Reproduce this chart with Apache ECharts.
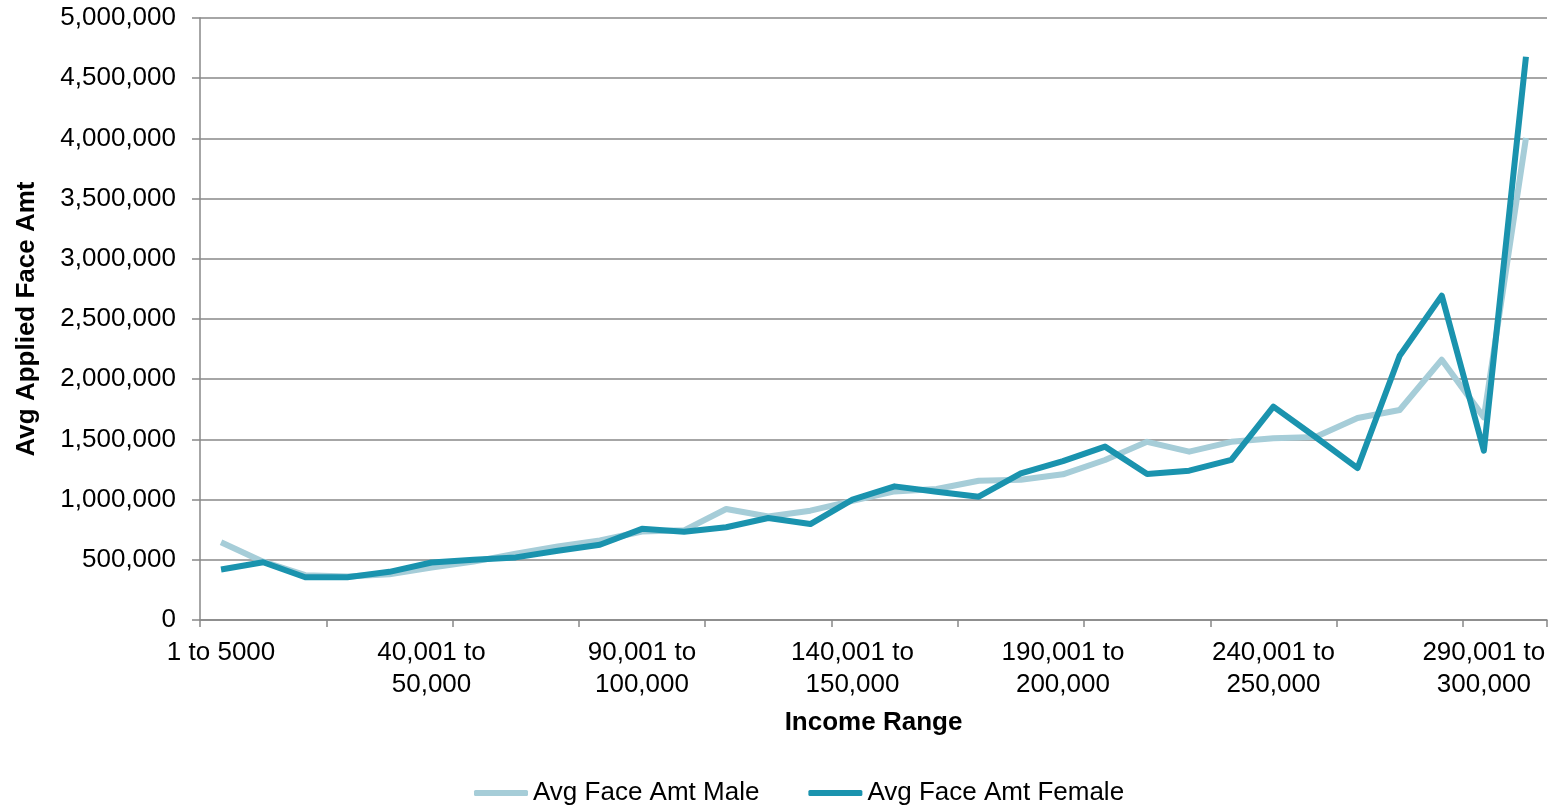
<!DOCTYPE html>
<html>
<head>
<meta charset="utf-8">
<title>Avg Applied Face Amt by Income Range</title>
<script src="https://cdn.jsdelivr.net/npm/echarts@6/dist/echarts.min.js"></script>
<style>
  html, body { margin: 0; padding: 0; background: #ffffff; }
  #chart { width: 1552px; height: 806px; }
</style>
</head>
<body>
<div id="chart"></div>
<script>
// Income bands (x-axis categories)
const incomeRanges = [
  '1 to 5000', '5,001 to\n10,000', '10,001 to\n20,000', '20,001 to\n30,000',
  '30,001 to\n40,000', '40,001 to\n50,000', '50,001 to\n60,000', '60,001 to\n70,000',
  '70,001 to\n80,000', '80,001 to\n90,000', '90,001 to\n100,000', '100,001 to\n110,000',
  '110,001 to\n120,000', '120,001 to\n130,000', '130,001 to\n140,000', '140,001 to\n150,000',
  '150,001 to\n160,000', '160,001 to\n170,000', '170,001 to\n180,000', '180,001 to\n190,000',
  '190,001 to\n200,000', '200,001 to\n210,000', '210,001 to\n220,000', '220,001 to\n230,000',
  '230,001 to\n240,000', '240,001 to\n250,000', '250,001 to\n260,000', '260,001 to\n270,000',
  '270,001 to\n280,000', '280,001 to\n290,000', '290,001 to\n300,000', '300,001+'
];

// Average applied face amount, male applicants
const maleAvgFace = [
  645000, 484000, 372000, 362000, 380000, 435000, 485000, 550000,
  610000, 660000, 735000, 745000, 922000, 860000, 908000, 990000,
  1068000, 1088000, 1157000, 1165000, 1210000, 1329000, 1480000, 1398000,
  1480000, 1510000, 1520000, 1678000, 1744000, 2162000, 1683000, 4003000
];

// Average applied face amount, female applicants
const femaleAvgFace = [
  420000, 480000, 355000, 355000, 400000, 478000, 500000, 520000,
  575000, 625000, 757000, 733000, 770000, 847000, 797000, 1000000,
  1110000, 1066000, 1024000, 1218000, 1320000, 1440000, 1213000, 1240000,
  1330000, 1772000, 1520000, 1262000, 2195000, 2694000, 1406000, 4678000
];

const seriesNames = ['Avg Face Amt Male', 'Avg Face Amt Female'];

const FONT = '"Liberation Sans", Arial, Helvetica, sans-serif';
const GRID_GRAY = '#888888';
const MALE_COLOR = '#a6cdd8';
const FEMALE_COLOR = '#1a93ae';

const chart = echarts.init(document.getElementById('chart'), null, { renderer: 'canvas' });

chart.setOption({
  animation: false,
  backgroundColor: '#ffffff',
  textStyle: { fontFamily: FONT },
  grid: { left: 200, right: 5, top: 18, bottom: 186, containLabel: false },
  legend: {
    data: seriesNames,
    left: 474,
    top: 780,
    padding: 0,
    icon: 'roundRect',
    itemWidth: 54,
    itemHeight: 6,
    itemGap: 49,
    textStyle: { fontFamily: FONT, fontSize: 26, color: '#000000' }
  },
  xAxis: {
    type: 'category',
    data: incomeRanges,
    boundaryGap: true,
    name: 'Income Range',
    nameLocation: 'middle',
    nameGap: 90,
    nameTextStyle: { fontFamily: FONT, fontSize: 26, fontWeight: 'bold', color: '#000000' },
    axisLine: { show: true, lineStyle: { color: GRID_GRAY, width: 1.5 } },
    axisTick: { show: true, interval: 2, length: 7, lineStyle: { color: GRID_GRAY, width: 1.5 } },
    axisLabel: {
      interval: 4,
      margin: 17,
      fontFamily: FONT,
      fontSize: 26,
      lineHeight: 32,
      color: '#000000',
      align: 'center'
    },
    splitLine: { show: false }
  },
  yAxis: {
    type: 'value',
    min: 0,
    max: 5000000,
    interval: 500000,
    name: 'Avg Applied Face Amt',
    nameLocation: 'middle',
    nameGap: 160,
    nameRotate: 90,
    nameTextStyle: { fontFamily: FONT, fontSize: 26, fontWeight: 'bold', color: '#000000' },
    axisLine: { show: true, lineStyle: { color: GRID_GRAY, width: 1.5 } },
    axisTick: { show: true, inside: false, length: 8, lineStyle: { color: GRID_GRAY, width: 1.5 } },
    axisLabel: {
      margin: 24,
      fontFamily: FONT,
      fontSize: 26,
      color: '#000000',
      formatter: v => v.toLocaleString('en-US')
    },
    splitLine: { show: true, lineStyle: { color: GRID_GRAY, width: 1.5 } }
  },
  series: [
    {
      name: seriesNames[0],
      type: 'line',
      data: maleAvgFace,
      symbol: 'none',
      smooth: false,
      color: MALE_COLOR,
      lineStyle: { color: MALE_COLOR, width: 6, join: 'round' },
      z: 2
    },
    {
      name: seriesNames[1],
      type: 'line',
      data: femaleAvgFace,
      symbol: 'none',
      smooth: false,
      color: FEMALE_COLOR,
      lineStyle: { color: FEMALE_COLOR, width: 6, join: 'round' },
      z: 3
    }
  ]
});
</script>
</body>
</html>
